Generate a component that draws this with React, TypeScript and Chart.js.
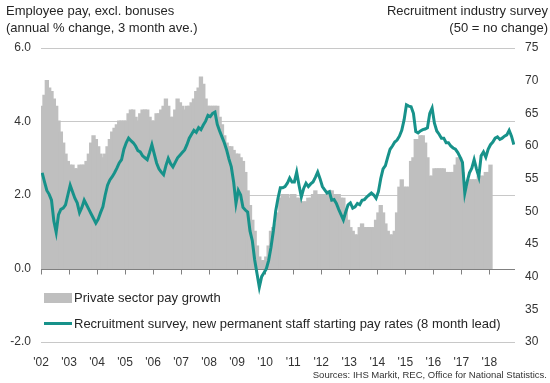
import React, { useEffect, useRef } from "react";
import { Chart, registerables } from "chart.js";

Chart.register(...registerables);

const START_YEAR = 2002;

// Private sector pay growth (annual % change, 3m ave), monthly from Jan 2002
const PAY_GROWTH: number[] = [
  4.4, 4.7, 5.1, 4.9, 4.8, 4.6, 4.4, 4.0, 3.7, 3.4, 3.1, 2.9,
  2.8, 2.8, 2.7, 2.7, 2.8, 2.8, 2.8, 2.9, 3.1, 3.4, 3.6, 3.5,
  3.3, 3.1, 3.0, 3.1, 3.3, 3.5, 3.7, 3.8, 3.9, 4.0, 4.0, 4.0,
  4.0, 4.2, 4.3, 4.3, 4.1, 4.0, 4.2, 4.3, 4.3, 4.3, 4.1, 4.0,
  4.0, 4.2, 4.2, 4.3, 4.4, 4.6, 4.4, 4.1, 4.1, 4.3, 4.6, 4.5,
  4.4, 4.3, 4.4, 4.4, 4.5, 4.6, 4.8, 4.9, 5.2, 5.0, 4.6, 4.4,
  4.4, 4.4, 4.4, 4.4, 4.1, 3.9, 3.6, 3.4, 3.3, 3.3, 3.2, 3.1,
  3.1, 3.0, 2.9, 2.6, 2.1, 1.7, 1.3, 1.0, 0.6, 0.3, 0.2, 0.2,
  0.3, 0.6, 1.0, 1.1, 1.2, 1.5, 1.9, 2.0, 2.0, 2.0, 1.9, 2.0,
  2.0, 1.9, 1.9, 1.8, 1.8, 1.8, 1.9, 1.9, 2.0, 2.1, 2.0, 2.0,
  2.0, 2.0, 2.0, 2.1, 2.1, 2.0, 2.0, 2.0, 1.9, 1.9, 1.6, 1.3,
  1.1, 1.0, 0.9, 0.9, 1.1, 1.2, 1.1, 1.1, 1.1, 1.1, 1.1, 1.3,
  1.5, 1.7, 1.5, 1.2, 1.0, 0.9, 0.9, 1.0, 1.5, 2.2, 2.4, 2.2,
  2.2, 2.2, 2.9, 3.0, 3.5, 3.5, 3.6, 3.6, 3.4, 3.0, 2.5, 2.5,
  2.7, 2.7, 2.7, 2.7, 2.7, 2.6, 2.6, 2.6, 2.6, 2.8, 3.0, 3.0,
  2.6, 2.2, 2.2, 2.4, 2.4, 2.4, 2.4, 2.5, 2.5, 2.5, 2.6, 2.6,
  2.8,
];

// Recruitment survey, new permanent staff starting pay (index, 8 month lead), monthly from Jan 2002
const RECRUIT_INDEX: number[] = [
  55.9, 54.5, 53.2, 52.6, 51.7, 48.5, 46.8, 49.5, 50.3, 50.5, 51.0, 52.5,
  54.0, 53.0, 52.0, 51.3, 49.8, 50.6, 51.7, 51.0, 50.3, 49.6, 48.9, 48.2,
  48.8, 49.8, 50.7, 52.5, 54.0, 54.8, 55.3, 55.9, 56.6, 57.4, 57.9, 59.5,
  60.5, 61.2, 60.8, 60.5, 60.0, 59.3, 59.1, 58.5, 58.2, 57.9, 59.0, 60.2,
  58.8, 57.4, 56.5, 56.0, 55.6, 57.0, 58.1, 57.3, 56.8, 57.5, 58.2, 58.6,
  59.0, 59.4, 60.2, 61.2, 61.8, 62.4, 62.1, 62.8, 62.5, 63.2, 63.8, 64.7,
  64.5, 65.0, 65.2, 63.3, 62.3, 61.4, 60.5, 59.4, 58.0, 56.8, 54.5, 51.2,
  53.2, 52.5, 50.6, 50.2, 49.9, 47.0, 45.5, 42.6, 40.5, 38.4, 40.0, 40.6,
  41.2, 42.5, 44.5, 47.0, 50.0, 52.0, 53.6, 53.6, 53.8, 54.3, 55.1, 54.5,
  54.5, 56.0, 54.0, 52.2, 53.5, 54.3, 53.8, 54.2, 54.5, 55.2, 56.0, 55.0,
  53.8, 53.3, 52.8, 53.0, 51.7, 51.8, 51.2, 50.3, 49.5, 48.7, 49.9, 51.0,
  51.3, 50.5, 50.7, 51.2, 51.0, 51.7, 51.8, 52.2, 52.5, 52.8, 52.5, 52.0,
  53.0, 55.0, 56.5, 57.0, 58.3, 59.5, 60.0, 60.6, 60.9, 61.5, 62.4, 64.0,
  66.3, 66.1, 66.0, 65.0, 62.2, 62.0, 62.3, 62.5, 62.6, 62.8, 65.0, 65.8,
  63.5, 62.3, 61.8, 61.2, 61.2, 60.5, 60.5, 60.0, 59.7, 59.5, 59.0, 58.3,
  57.5, 52.8, 54.5, 55.9, 56.6, 57.9, 56.5, 55.3, 58.5, 59.1, 58.3, 59.5,
  60.2, 60.6, 61.2, 61.4, 61.0, 61.2, 61.5, 61.7, 62.4, 61.5, 60.2,
];

const LEFT_TITLE = ["Employee pay, excl. bonuses", "(annual % change, 3 month ave.)"];
const RIGHT_TITLE = ["Recruitment industry survey", "(50 = no change)"];
const LEGEND_BARS = "Private sector pay growth";
const LEGEND_LINE = "Recruitment survey, new permanent staff starting pay rates (8 month lead)";
const SOURCE = "Sources: IHS Markit, REC, Office for National Statistics.";

const GREY = "#bfbfbf";
const TEAL = "#17928a";
const TEXT = "#333333";
const FONT = "'Liberation Sans', Arial, sans-serif";

const monthX = (i: number) => START_YEAR + (i + 0.5) / 12;

const zeroAxisPlugin = {
  id: "zeroAxis",
  afterDatasetDraw(chart: any, args: any) {
    if (args.meta.type !== "bar") return;
    const ctx = chart.ctx;
    const xs = chart.scales.x;
    const ys = chart.scales.y;
    const y0 = Math.round(ys.getPixelForValue(0)) + 0.5;
    ctx.save();
    ctx.strokeStyle = "#808080";
    ctx.lineWidth = 1;
    ctx.beginPath();
    ctx.moveTo(chart.chartArea.left, y0);
    ctx.lineTo(chart.chartArea.right, y0);
    xs.ticks.forEach((t: any) => {
      const px = Math.round(xs.getPixelForValue(t.value)) + 0.5;
      ctx.moveTo(px, y0);
      ctx.lineTo(px, y0 + 5);
    });
    ctx.stroke();
    ctx.restore();
  },
};

function ChartCanvas() {
  const ref = useRef<HTMLCanvasElement | null>(null);
  useEffect(() => {
    if (!ref.current) return;
    const chart = new Chart(ref.current, {
      type: "bar",
      data: {
        datasets: [
          {
            type: "line",
            label: LEGEND_LINE,
            data: RECRUIT_INDEX.map((v, i) => ({ x: monthX(i), y: v })),
            yAxisID: "y2",
            borderColor: TEAL,
            borderWidth: 3,
            pointRadius: 0,
            tension: 0,
            order: 0,
          } as any,
          {
            type: "bar",
            label: LEGEND_BARS,
            data: PAY_GROWTH.map((v, i) => ({ x: monthX(i), y: v })),
            yAxisID: "y",
            backgroundColor: GREY,
            borderColor: GREY,
            borderWidth: 0,
            inflateAmount: 1,
            barPercentage: 1,
            categoryPercentage: 1,
            grouped: false,
            order: 1,
          } as any,
        ],
      },
      options: {
        responsive: false,
        animation: false,
        devicePixelRatio: 1,
        layout: { padding: { top: 48, left: 0, right: 0, bottom: 0 } },
        plugins: { legend: { display: false }, tooltip: { enabled: false } },
        scales: {
          x: {
            type: "linear",
            position: "bottom",
            min: START_YEAR,
            max: START_YEAR + RECRUIT_INDEX.length / 12,
            offset: false,
            grid: { display: false },
            border: { display: false },
            ticks: {
              stepSize: 1,
              autoSkip: false,
              maxRotation: 0,
              includeBounds: false,
              padding: 5,
              color: TEXT,
              font: { family: FONT, size: 12 },
              callback: (v: any) => (Number.isInteger(v) ? "'" + String(v).slice(2) : ""),
            },
            afterBuildTicks: (s: any) => {
              s.ticks = s.ticks.filter((t: any) => Number.isInteger(t.value));
            },
            afterFit: (s: any) => {
              s.height = 41;
            },
          } as any,
          y: {
            position: "left",
            min: -2,
            max: 6,
            border: { display: false },
            grid: {
              color: (c: any) => (c.tick && c.tick.value === 0 ? "rgba(0,0,0,0)" : "#c8c8c8"),
              drawTicks: false,
              lineWidth: 1,
            },
            ticks: {
              stepSize: 2,
              padding: 10,
              color: TEXT,
              font: { family: FONT, size: 12 },
              callback: (v: any) => Number(v).toFixed(1),
            },
            afterFit: (s: any) => {
              s.width = 41;
            },
          } as any,
          y2: {
            position: "right",
            min: 30,
            max: 75,
            border: { display: false },
            grid: { display: false, drawTicks: false },
            ticks: {
              stepSize: 5,
              padding: 10,
              color: TEXT,
              font: { family: FONT, size: 12 },
            },
            afterFit: (s: any) => {
              s.width = 35;
            },
          } as any,
        },
      },
      plugins: [zeroAxisPlugin],
    });
    return () => chart.destroy();
  }, []);
  return <canvas ref={ref} width={550} height={383} style={{ position: "absolute", left: 0, top: 0 }} />;
}

export default function App() {
  const base: React.CSSProperties = {
    position: "absolute",
    fontFamily: FONT,
    color: "#262626",
    whiteSpace: "nowrap",
  };
  return (
    <div style={{ position: "absolute", left: 0, top: 0, width: 550, height: 383, background: "#fff", overflow: "hidden" }}>
      <ChartCanvas />
      <div style={{ ...base, left: 6, top: 2, fontSize: 13, lineHeight: "17px" }}>
        {LEFT_TITLE.map((t) => (
          <div key={t}>{t}</div>
        ))}
      </div>
      <div style={{ ...base, right: 2, top: 2, fontSize: 13, lineHeight: "17px", textAlign: "right" }}>
        {RIGHT_TITLE.map((t) => (
          <div key={t}>{t}</div>
        ))}
      </div>
      <div style={{ ...base, left: 44, top: 293, width: 28, height: 10, background: GREY }} />
      <div style={{ ...base, left: 74, top: 290, fontSize: 13, lineHeight: "16px" }}>{LEGEND_BARS}</div>
      <div style={{ ...base, left: 44, top: 322, width: 28, height: 3, background: TEAL }} />
      <div style={{ ...base, left: 74, top: 316, fontSize: 13, lineHeight: "16px" }}>{LEGEND_LINE}</div>
      <div style={{ ...base, right: 3, top: 369, fontSize: 9.5, lineHeight: "12px", color: TEXT }}>{SOURCE}</div>
    </div>
  );
}
